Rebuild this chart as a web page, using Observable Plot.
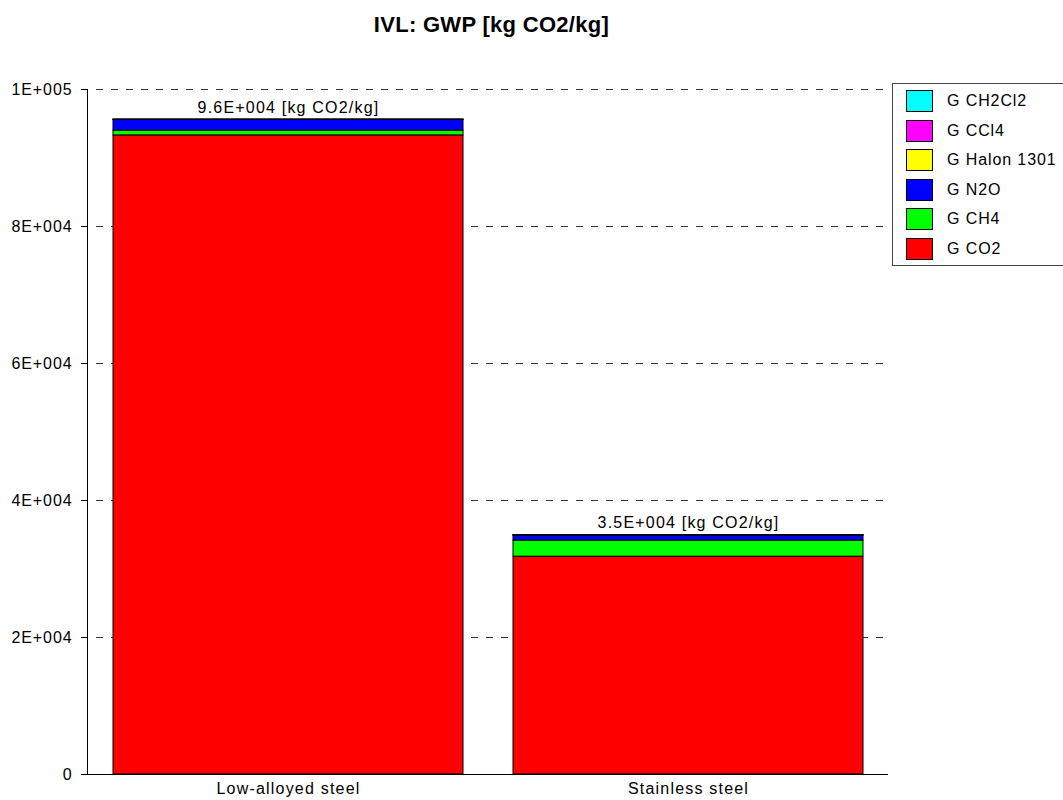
<!DOCTYPE html>
<html><head><meta charset="utf-8">
<script src="https://cdn.jsdelivr.net/npm/d3@7"></script>
<script src="https://cdn.jsdelivr.net/npm/@observablehq/plot@0.6"></script>
<style>
body{margin:0;background:#fff;font-family:Arial,"Liberation Sans",sans-serif;}
#wrap{position:relative;width:1063px;height:800px;overflow:hidden;}
#chart svg text{letter-spacing:1.2px;}
#chart svg g[aria-label="y-axis tick label"]{font-size:16px !important;}
#chart svg g[aria-label="y-axis tick label"] text{font-size:16px !important;letter-spacing:0.9px;}
#title{position:absolute;left:0;width:983px;top:12px;text-align:center;font-weight:bold;font-size:22px;letter-spacing:0.3px;color:#000;}
#legend{position:absolute;left:892px;top:83px;width:172px;height:183px;border:1px solid #444;box-sizing:border-box;background:#fff;}
.li{position:absolute;left:13px;height:22px;display:flex;align-items:center;font-size:16px;letter-spacing:0.9px;color:#000;}
.sw{width:27px;height:22px;border:1px solid #000;box-sizing:border-box;margin-right:14px;}
</style></head>
<body>
<div id="wrap">
<div id="title">IVL: GWP [kg CO2/kg]</div>
<div id="chart"></div>
<div id="legend"></div>
</div>
<script>
const materials = ["Low-alloyed steel", "Stainless steel"];
const gases = ["G CO2", "G CH4", "G N2O", "G Halon 1301", "G CCl4", "G CH2Cl2"];
const colors = ["#ff0000", "#00ff00", "#0000ff", "#ffff00", "#ff00ff", "#00ffff"];
const co2 = [93300, 31800];
const ch4 = [700, 2350];
const n2o = [1550, 750];
const halon = [40, 15];
const ccl4 = [10, 5];
const ch2cl2 = [5, 3];
const yTicks = [0, 20000, 40000, 60000, 80000, 100000];
const yTickLabels = ["0", "2E+004", "4E+004", "6E+004", "8E+004", "1E+005"];
const unitLabel = "[kg CO2/kg]";

const series = [co2, ch4, n2o, halon, ccl4, ch2cl2];
const data = [];
materials.forEach((m, i) => gases.forEach((g, j) => data.push({material: m, gas: g, value: series[j][i]})));
const totals = materials.map((m, i) => ({material: m, total: d3.sum(series, s => s[i])}));
const fmtE = v => { const [mant, exp] = v.toExponential(1).split("e"); const e = +exp; return mant + "E" + (e < 0 ? "-" : "+") + String(Math.abs(e)).padStart(3, "0"); };

const chart = Plot.plot({
  width: 1063, height: 800,
  marginTop: 89, marginBottom: 26, marginLeft: 87, marginRight: 175,
  style: {fontFamily: 'Arial, "Liberation Sans", sans-serif', fontSize: "16px", color: "#000", background: "#fff"},
  x: {domain: materials, paddingInner: 0.125, paddingOuter: 0.0625, label: null},
  y: {domain: [0, 100000], label: null},
  color: {domain: gases, range: colors},
  marks: [
    Plot.ruleY(yTicks.filter(d => d > 0), {stroke: "#333", strokeDasharray: "7,8", strokeDashoffset: -9, strokeWidth: 1}),
    Plot.barY(data, {x: "material", y: "value", fill: "gas", z: "gas", order: gases, stroke: "#000", strokeWidth: 1, inset: 0}),
    Plot.text(totals, {x: "material", y: "total", text: d => fmtE(d.total) + " " + unitLabel, lineAnchor: "bottom", dy: -7, fontSize: 16, fill: "#000"}),
    Plot.ruleY([0], {stroke: "#000"}),
    Plot.axisY({ticks: yTicks, tickFormat: d => yTickLabels[yTicks.indexOf(d)], tickSize: 6, tickPadding: 9, label: null, fontSize: 16}),
    Plot.frame({anchor: "left", stroke: "#000"}),
    Plot.axisX({tickSize: 0, tickPadding: 8, label: null, fontSize: 16})
  ]
});
document.getElementById("chart").appendChild(chart);

const leg = document.getElementById("legend");
const order = gases.slice().reverse();
order.forEach((g, k) => {
  const div = document.createElement("div");
  div.className = "li";
  div.style.top = (6 + k * 29.5) + "px";
  div.innerHTML = `<div class="sw" style="background:${colors[gases.indexOf(g)]}"></div><span>${g}</span>`;
  leg.appendChild(div);
});
</script>
</body></html>
